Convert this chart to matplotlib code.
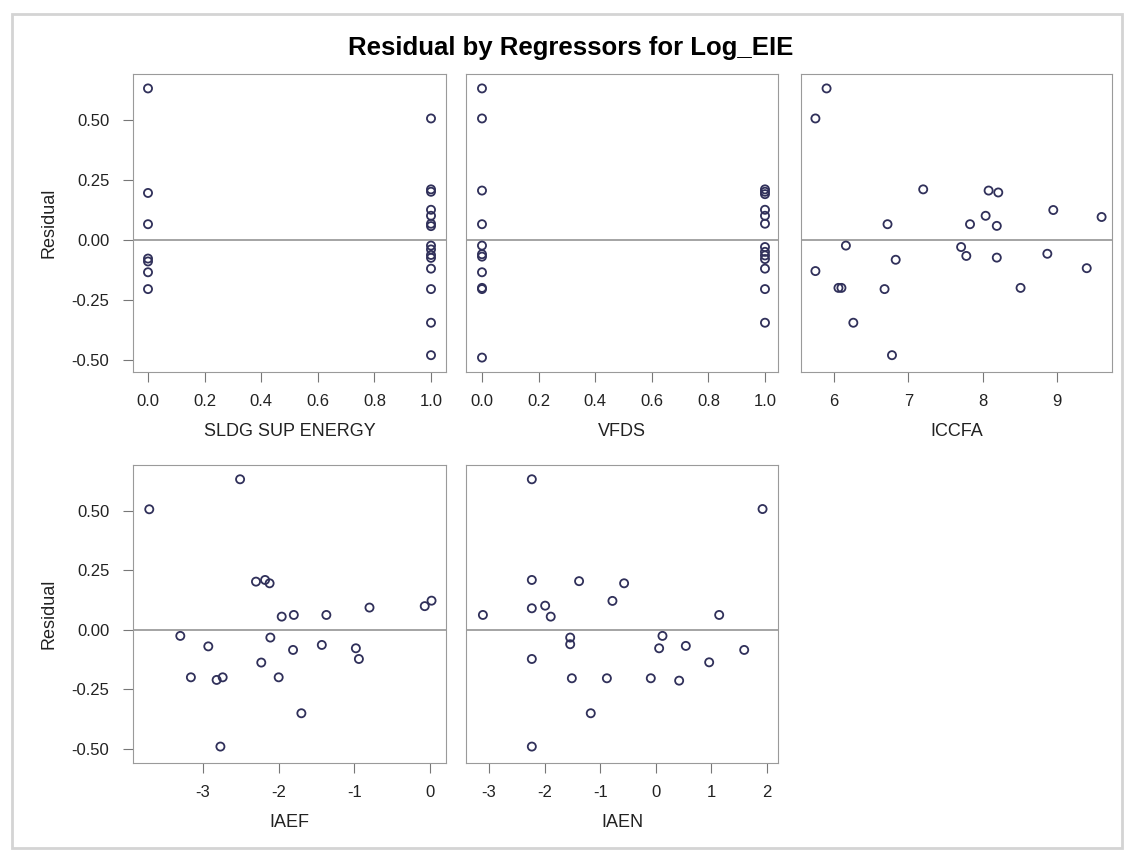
import matplotlib
matplotlib.use('Agg')
from matplotlib import pyplot as plt
from matplotlib.patches import Rectangle

plt.rcParams['font.family'] = ['Liberation Sans', 'DejaVu Sans']

# Dados
sldg_x = [0, 0, 0, 0, 0, 0, 0,
          1, 1, 1, 1, 1, 1, 1, 1, 1, 1, 1, 1, 1, 1, 1]
sldg_res = [0.63, 0.195, 0.065, -0.078, -0.09, -0.135, -0.205,
            0.505, 0.21, 0.20, 0.125, 0.10, 0.067, 0.057, -0.024, -0.04, -0.063,
            -0.075, -0.12, -0.205, -0.345, -0.48]

vfds_x = [0, 0, 0, 0, 0, 0, 0, 0, 0, 0, 0,
          1, 1, 1, 1, 1, 1, 1, 1, 1, 1, 1, 1, 1]
vfds_res = [0.63, 0.505, 0.205, 0.065, -0.024, -0.06, -0.07, -0.135, -0.20, -0.205, -0.49,
            0.21, 0.20, 0.19, 0.125, 0.10, 0.067, -0.03, -0.05, -0.065, -0.08, -0.12,
            -0.205, -0.345]

iccfa_x = [5.90, 5.75, 7.20, 6.72, 6.16, 5.75, 6.83, 6.06, 6.10, 6.68, 6.26, 6.78,
           7.71, 7.78, 7.83, 8.08, 8.21, 8.04, 8.19, 8.19, 8.51, 8.87, 8.95, 9.40, 9.60]
iccfa_res = [0.63, 0.505, 0.21, 0.065, -0.024, -0.13, -0.083, -0.20, -0.20, -0.205, -0.345,
             -0.48, -0.03, -0.067, 0.065, 0.205, 0.197, 0.10, 0.058, -0.074, -0.20,
             -0.058, 0.124, -0.118, 0.095]

iaef_x = [-2.51, -3.71, -2.30, -2.18, -2.12, -1.96, -1.80, -1.37, -0.80, -0.07, 0.02,
          -3.30, -2.93, -2.11, -1.81, -1.43, -0.98, -0.94, -2.23, -3.16, -2.82, -2.74,
          -2.00, -1.70, -2.77]
iaef_res = [0.633, 0.507, 0.203, 0.21, 0.196, 0.056, 0.063, 0.063, 0.094, 0.10, 0.123,
            -0.025, -0.069, -0.032, -0.084, -0.063, -0.077, -0.122, -0.137, -0.199,
            -0.21, -0.199, -0.199, -0.35, -0.49]

iaen_x = [-2.23, 1.92, -2.23, -1.38, -0.57, -0.78, -2.23, -1.99, -1.89, -3.11, 1.14,
          -1.54, -1.54, 0.12, 0.06, 0.54, 1.59, -2.23, 0.96, -1.51, -0.88, -0.09, 0.42,
          -1.17, -2.23]
iaen_res = [0.633, 0.508, 0.21, 0.205, 0.196, 0.122, 0.091, 0.102, 0.056, 0.063, 0.063,
            -0.032, -0.06, -0.025, -0.077, -0.067, -0.084, -0.122, -0.136, -0.203,
            -0.203, -0.203, -0.213, -0.35, -0.49]

y_ticks = [-0.50, -0.25, 0.00, 0.25, 0.50]
y_ticklabels = ['-0.50', '-0.25', '0.00', '0.25', '0.50']

W, H = 1124, 852
fig = plt.figure(figsize=(W / 100, H / 100), dpi=100)
fig.patches.append(Rectangle((12 / W, 4 / H), 1110 / W, 834 / H, transform=fig.transFigure,
                             fill=False, edgecolor='#d4d4d4', linewidth=2))

fig.text(571 / W, 1 - 48 / H, 'Residual by Regressors for Log_EIE', ha='center', va='center',
         fontsize=18.5, fontweight='bold')


def painel(px_left, px_right, px_top, px_bot, x, res, xlim, ylim, xticks, xticklabels, xlabel, left):
    ax = fig.add_axes([px_left / W, 1 - px_bot / H, (px_right - px_left) / W, (px_bot - px_top) / H])
    ax.axhline(0, color='#8c8c8c', linewidth=1.1, zorder=1)
    ax.scatter(x, res, s=34, facecolors='none', edgecolors='#30305a', linewidths=1.3, zorder=3)
    ax.set_xlim(xlim)
    ax.set_ylim(ylim)
    ax.set_xticks(xticks)
    ax.set_xticklabels(xticklabels)
    ax.set_xlabel(xlabel, fontsize=13, labelpad=10, color='#222222')
    if left:
        ax.set_yticks(y_ticks)
        ax.set_yticklabels(y_ticklabels)
        ax.set_ylabel('Residual', fontsize=13, labelpad=10, color='#222222')
    else:
        ax.set_yticks([])
    for s in ax.spines.values():
        s.set_color('#9a9a9a')
    ax.tick_params(colors='#777777', labelcolor='#222222', labelsize=12, length=7)
    ax.tick_params(axis='x', pad=9)
    ax.tick_params(axis='y', pad=10)
    return ax


ticks01 = [0.0, 0.2, 0.4, 0.6, 0.8, 1.0]
lab01 = ['0.0', '0.2', '0.4', '0.6', '0.8', '1.0']
ylim_top = (-0.55, 0.69)
ylim_bot = (-0.559, 0.693)

painel(133, 446, 74, 372, sldg_x, sldg_res, (-0.053, 1.053), ylim_top, ticks01, lab01,
       'SLDG SUP ENERGY', True)
painel(466, 778, 74, 372, vfds_x, vfds_res, (-0.0565, 1.046), ylim_top, ticks01, lab01,
       'VFDS', False)
painel(801, 1112, 74, 372, iccfa_x, iccfa_res, (5.556, 9.74), ylim_top, [6, 7, 8, 9],
       ['6', '7', '8', '9'], 'ICCFA', False)
painel(133, 446, 465, 763, iaef_x, iaef_res, (-3.925, 0.211), ylim_bot, [-3, -2, -1, 0],
       ['-3', '-2', '-1', '0'], 'IAEF', True)
painel(466, 778, 465, 763, iaen_x, iaen_res, (-3.414, 2.198), ylim_bot, [-3, -2, -1, 0, 1, 2],
       ['-3', '-2', '-1', '0', '1', '2'], 'IAEN', False)

plt.savefig('out.png', dpi=100)
